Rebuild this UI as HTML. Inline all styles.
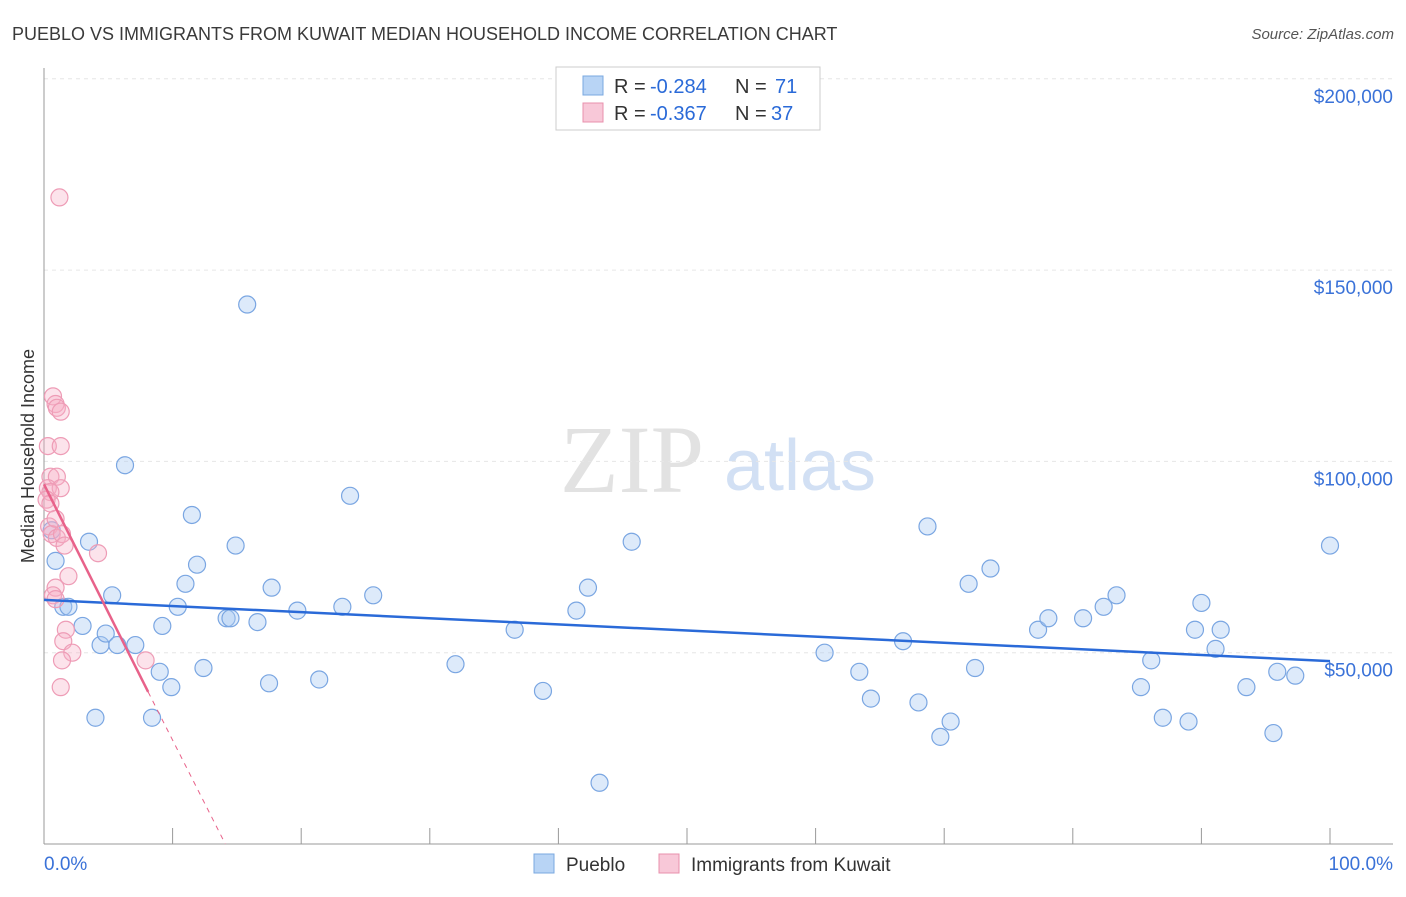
<!DOCTYPE html>
<html><head><meta charset="utf-8"><style>
body{margin:0;background:#fff;font-family:"Liberation Sans",sans-serif;}
svg text{font-family:"Liberation Sans",sans-serif;}
</style></head><body>
<svg id="chart" width="1406" height="892" viewBox="0 0 1406 892">
<text x="12" y="40" font-size="18" fill="#3a3a3a">PUEBLO VS IMMIGRANTS FROM KUWAIT MEDIAN HOUSEHOLD INCOME CORRELATION CHART</text>
<text x="1394" y="39" font-size="15" fill="#555" font-style="italic" text-anchor="end">Source: ZipAtlas.com</text>
<text x="0" y="0" transform="translate(34,456) rotate(-90)" font-size="18" fill="#333" text-anchor="middle">Median Household Income</text>
<g><text x="632" y="492" font-size="96" fill="#e2e2e2" font-family="Liberation Serif" text-anchor="middle" style="font-family:'Liberation Serif',serif">ZIP</text><text x="800" y="490" font-size="72" fill="#d2e0f4" text-anchor="middle">atlas</text></g>
<g id="grid"></g><g id="axes"></g><g id="pts"></g><g id="trend"></g>
<g>
<rect x="556" y="67" width="264" height="63" fill="#fff" stroke="#ccc"/>
<rect x="583" y="76" width="20" height="19" fill="#b8d4f5" stroke="#7aa8e0"/>
<text x="614" y="93" font-size="20" fill="#333">R =</text><text x="650" y="93" font-size="20" fill="#2a6ad8">-0.284</text>
<text x="735" y="93" font-size="20" fill="#333">N =</text><text x="775" y="93" font-size="20" fill="#2a6ad8">71</text>
<rect x="583" y="103" width="20" height="19" fill="#f8c8d8" stroke="#e890ac"/>
<text x="614" y="120" font-size="20" fill="#333">R =</text><text x="650" y="120" font-size="20" fill="#2a6ad8">-0.367</text>
<text x="735" y="120" font-size="20" fill="#333">N =</text><text x="771" y="120" font-size="20" fill="#2a6ad8">37</text>
</g>
<g>
<rect x="534" y="854" width="20" height="19" fill="#b8d4f5" stroke="#7aa8e0"/>
<text x="566" y="871" font-size="19" fill="#333">Pueblo</text>
<rect x="659" y="854" width="20" height="19" fill="#f8c8d8" stroke="#e890ac"/>
<text x="691" y="871" font-size="19" fill="#333">Immigrants from Kuwait</text>
</g>
</svg>
<script>
const yTicks=[50000,100000,150000,200000];
const yTickLabels=["$50,000","$100,000","$150,000","$200,000"];
const xTickLabels=["0.0%","100.0%"];
const blueX=[0.6,0.9,1.5,1.9,3.0,3.5,4,4.4,4.8,5.3,5.7,6.3,7.1,8.4,9.0,9.2,9.9,10.4,11,11.5,11.9,12.4,14.2,14.5,14.9,15.8,16.6,17.5,17.7,19.7,21.4,23.2,23.8,25.6,32,36.6,38.8,41.4,42.3,43.2,45.7,60.7,63.4,64.3,66.8,68,68.7,69.7,70.5,71.9,72.4,73.6,77.3,78.1,80.8,82.4,83.4,85.3,86.1,87,89,89.5,90,91.1,91.5,93.5,95.6,95.9,97.3,100];
const blueY=[82,74,62,62,57,79,33,52,55,65,52,99,52,33,45,57,41,62,68,86,73,46,59,59,78,141,58,42,67,61,43,62,91,65,47,56,40,61,67,16,79,50,45,38,53,37,83,28,32,68,46,72,56,59,59,62,65,41,48,33,32,56,63,51,56,41,29,45,44,78];
const pinkX=[1.2,0.7,0.9,1.0,1.3,0.3,1.3,0.5,1.0,0.3,1.3,0.5,0.2,0.5,0.4,0.6,1.0,1.4,1.6,4.2,1.9,0.9,0.7,0.9,1.7,1.5,2.2,1.4,7.9,1.3,0.9];
const pinkY=[169,117,115,114,113,104,104,96,96,93,93,92,90,89,83,81,80,81,78,76,70,67,65,64,56,53,50,48,48,41,85];
const blueTrend=[63.8,47.8];
const pinkTrend=[94,-6.7];
const pinkSolidEnd=8.1, pinkDashEnd=14.1;
const X0=44,X1=1330,YB=844,PX=191.3/50000;
const xs=v=>X0+(X1-X0)*v/100, ys=v=>YB-v*PX;
const NS="http://www.w3.org/2000/svg";
function mk(t,a,p){const e=document.createElementNS(NS,t);for(const k in a)e.setAttribute(k,a[k]);p.appendChild(e);return e;}
const grid=document.getElementById('grid'),axes=document.getElementById('axes');
yTicks.forEach((v,i)=>{
 const l=mk('line',{x1:X0,x2:1393,y1:ys(v),y2:ys(v),stroke:'#e6e6e6','stroke-dasharray':'4,4'},grid);
 
 
 const t=mk('text',{x:1393,y:ys(v)+24,'font-size':19,fill:'#3a72d8','text-anchor':'end'},axes);
 t.textContent=yTickLabels[i];
 
 
});
const ya=mk('line',{x1:X0,x2:X0,y1:68,y2:YB,stroke:'#999'},axes);


const xa=mk('line',{x1:X0,x2:1393,y1:YB,y2:YB,stroke:'#999'},axes);


for(let i=1;i<=10;i++){const tk=mk('line',{x1:xs(i*10),x2:xs(i*10),y1:828,y2:YB,stroke:'#999'},axes);
 
 }
[[0,'start',X0],[1,'end',1393]].forEach(([i,a,x])=>{const t=mk('text',{x:x,y:870,'font-size':19,fill:'#3a72d8','text-anchor':a},axes);t.textContent=xTickLabels[i];
 
 });
const pts=document.getElementById('pts');
blueX.forEach((x,i)=>{const c=mk('circle',{cx:xs(x),cy:ys(blueY[i]*1000),r:8.5,fill:'rgba(170,202,242,0.4)',stroke:'#7aa6e2','stroke-width':1.2},pts);
 
 });
pinkX.forEach((x,i)=>{const c=mk('circle',{cx:xs(x),cy:ys(pinkY[i]*1000),r:8.5,fill:'rgba(245,175,198,0.35)',stroke:'#ee9cb6','stroke-width':1.2},pts);
 
 });
const tr=document.getElementById('trend');
const bl=mk('line',{x1:xs(0),y1:ys(blueTrend[0]*1000),x2:xs(100),y2:ys(blueTrend[1]*1000),stroke:'#2a6ad8','stroke-width':2.5},tr);


const pf=x=>(pinkTrend[0]+pinkTrend[1]*x)*1000;
const pl=mk('line',{x1:xs(0),y1:ys(pf(0)),x2:xs(pinkSolidEnd),y2:ys(pf(pinkSolidEnd)),stroke:'#e8628a','stroke-width':2.5},tr);


const pd=mk('line',{x1:xs(pinkSolidEnd),y1:ys(pf(pinkSolidEnd)),x2:xs(pinkDashEnd),y2:ys(Math.max(pf(pinkDashEnd),0)),stroke:'#e8628a','stroke-width':1,'stroke-dasharray':'5,5'},tr);


</script>
</body></html>
